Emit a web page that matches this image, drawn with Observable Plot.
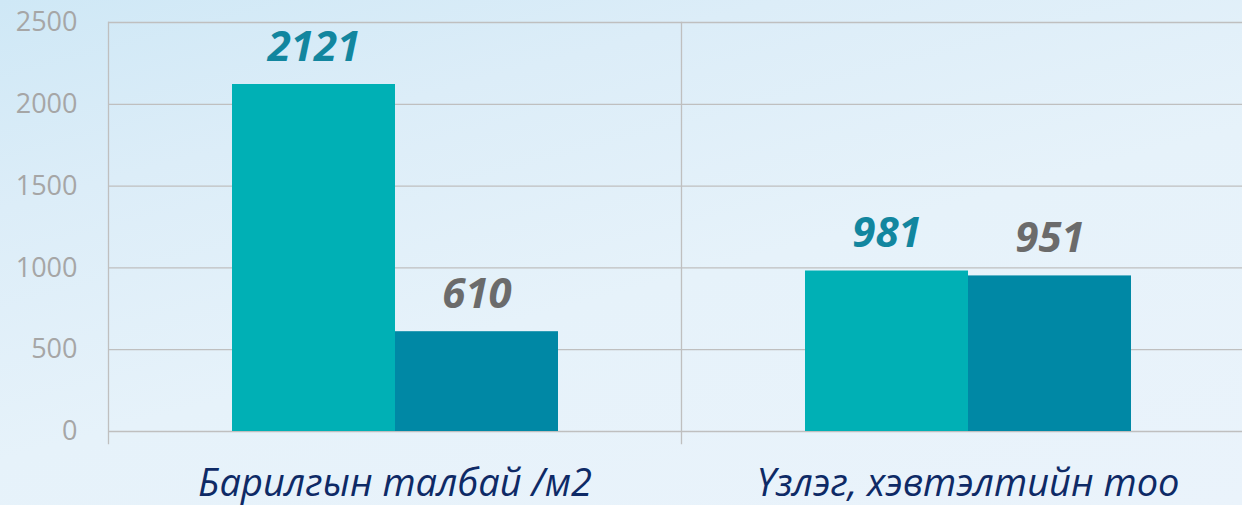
<!DOCTYPE html>
<html>
<head>
<meta charset="utf-8">
<script src="https://cdn.jsdelivr.net/npm/d3@7"></script>
<script src="https://cdn.jsdelivr.net/npm/@observablehq/plot@0.6"></script>
<style>
  html, body { margin: 0; padding: 0; width: 1242px; height: 505px; overflow: hidden; }
  body {
    background: linear-gradient(165deg, #cfe8f6 0%, #dcedf8 25%, #e6f2fa 55%, #eaf3fb 100%);
    font-family: "Open Sans", sans-serif;
  }
  #chart { width: 1254px; }
  #chart svg { display: block; max-width: none !important; }
  g[aria-label="fx-axis tick label"] text { font-style: italic; }
</style>
</head>
<body>
<div id="chart"></div>
<script>
const categories = ["Барилгын талбай /м2", "Үзлэг, хэвтэлтийн тоо"];
const seriesNames = ["Цуврал 1", "Цуврал 2"];
const series1 = [2121, 981];
const series2 = [610, 951];
const yTicks = [0, 500, 1000, 1500, 2000, 2500];

const barColors = ["#00b0b5", "#0088a5"];
const labelColors = ["#12869f", "#6b6b6b"];

const data = [];
categories.forEach((c, i) => {
  data.push({cat: c, series: seriesNames[0], value: series1[i]});
  data.push({cat: c, series: seriesNames[1], value: series2[i]});
});

const chart = Plot.plot({
  width: 1254,
  height: 505,
  marginLeft: 108,
  marginRight: 0,
  marginTop: 22,
  marginBottom: 74,
  style: {background: "transparent", fontFamily: "Open Sans, sans-serif"},
  fx: {domain: categories, paddingInner: 0, paddingOuter: 0, label: null},
  x: {domain: seriesNames, paddingInner: 0, paddingOuter: 0.752, axis: null},
  y: {domain: [0, 2500], axis: null},
  color: {domain: seriesNames, range: barColors},
  marks: [
    Plot.gridY(yTicks, {stroke: "#bfbfbf", strokeOpacity: 1, strokeWidth: 1.3}),
    Plot.frame({anchor: "left", stroke: "#bfbfbf", strokeWidth: 1.3, insetBottom: -12}),
    Plot.axisY(yTicks, {tickSize: 0, tickPadding: 31, fontSize: 27, fill: "#a6a6a6", label: null, anchor: "left", tickFormat: d => String(d)}),
    Plot.axisFx({anchor: "bottom", tickSize: 0, tickPadding: 38, fontSize: 38, fill: "#0e2a66", label: null}),
    Plot.barY(data, {fx: "cat", x: "series", y: "value", fill: "series"}),
    Plot.text(data.filter(d => d.series === seriesNames[0]), {fx: "cat", x: "series", y: "value", text: d => String(d.value), dy: -24, lineAnchor: "bottom", fill: labelColors[0], fontSize: 42, fontWeight: "bold", fontStyle: "italic"}),
    Plot.text(data.filter(d => d.series === seriesNames[1]), {fx: "cat", x: "series", y: "value", text: d => String(d.value), dy: -24, lineAnchor: "bottom", fill: labelColors[1], fontSize: 42, fontWeight: "bold", fontStyle: "italic"})
  ]
});
document.getElementById("chart").appendChild(chart);
</script>
</body>
</html>
